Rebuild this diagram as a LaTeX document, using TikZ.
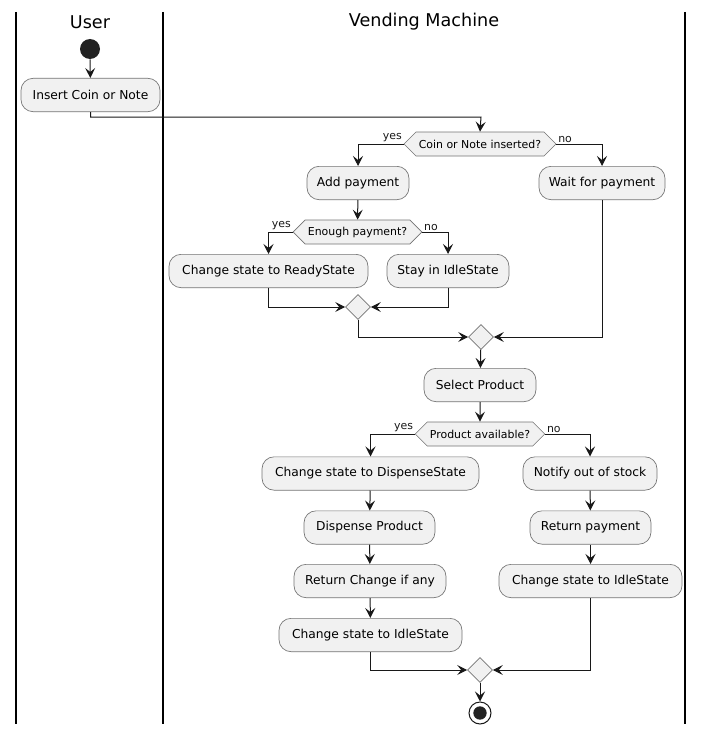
\documentclass[tikz,border=0pt]{standalone}
\usepackage{fontspec}
\setmainfont{DejaVu Sans}
\usetikzlibrary{arrows.meta,shapes.geometric,shapes.symbols}

\definecolor{boxgray}{HTML}{F1F1F1}
\definecolor{linecol}{HTML}{181818}
\definecolor{startcol}{HTML}{222222}

\tikzset{
  lane/.style={line width=1.1pt, black},
  action/.style={draw=black!55, line width=0.5pt, fill=boxgray, rounded corners=9pt, minimum height=25pt, inner xsep=6pt, font=\fontsize{9.2pt}{11pt}\selectfont},
  decision/.style={draw=black!55, line width=0.5pt, fill=boxgray, shape=signal, signal to=east and west, signal pointer angle=90, minimum height=18pt, inner xsep=2pt, inner ysep=0pt, font=\fontsize{8.2pt}{10pt}\selectfont},
  merge/.style={draw=black!55, line width=0.5pt, fill=boxgray, diamond, minimum size=18.75pt, inner sep=0pt, aspect=1},
  flow/.style={-{Stealth[length=7.5pt,width=7.5pt,inset=3pt]}, line width=0.75pt, linecol},
  branch/.style={font=\fontsize{8.2pt}{10pt}\selectfont, inner sep=1pt},
  title/.style={font=\fontsize{13.2pt}{15pt}\selectfont}
}

\begin{document}
\begin{tikzpicture}[x=0.75pt,y=-0.75pt]
    \useasboundingbox (0,0) rectangle (704,735);

    % lanes
    \draw[lane] (16,12) -- (16,724);
    \draw[lane] (163,12) -- (163,724);
    \draw[lane] (685,12) -- (685,724);
    \node[title] (user) at (90,22) {User};
    \node[title] (machine) at (424,22) {Vending Machine};

    % user
    \node[circle, fill=startcol, minimum size=15pt, inner sep=0pt] (start) at (90,49) {};
    \node[action, minimum width=104.25pt] (insert) at (90.5,95) {Insert Coin or Note};
    \coordinate (j1) at (481,117);

    % payment
    \node[decision, minimum width=114pt] (coin) at (480,144) {Coin or Note inserted?};
    \node[action, minimum width=76.5pt] (addpay) at (358,183) {Add payment};
    \node[action, minimum width=94.5pt] (waitpay) at (602,183) {Wait for payment};
    \node[decision, minimum width=93.75pt] (enough) at (357.5,232) {Enough payment?};
    \node[action, minimum width=149.25pt] (ready) at (268.5,271) {Change state to ReadyState};
    \node[action, minimum width=91.5pt] (stayidle) at (448,271) {Stay in IdleState};
    \node[merge] (merge1) at (358,307) {};
    \node[merge] (merge2) at (481,337) {};

    % product
    \node[action, minimum width=84pt] (select) at (480,385) {Select Product};
    \node[decision, minimum width=94.5pt] (avail) at (480,434) {Product available?};
    \node[action, minimum width=162.75pt] (dispstate) at (370.5,473.5) {Change state to DispenseState};
    \node[action, minimum width=100.5pt] (notify) at (590,473.5) {Notify out of stock};
    \node[action, minimum width=98.25pt] (dispense) at (369.5,527.5) {Dispense Product};
    \node[action, minimum width=90.75pt] (retpay) at (590.5,527.5) {Return payment};
    \node[action, minimum width=114pt] (retchange) at (370,581) {Return Change if any};
    \node[action, minimum width=137.25pt] (idleR) at (590.5,581) {Change state to IdleState};
    \node[action, minimum width=137.25pt] (idleL) at (370.5,635) {Change state to IdleState};
    \node[merge] (merge3) at (480,670) {};
    \node[circle, draw=linecol, line width=0.75pt, fill=white, minimum size=16.5pt, inner sep=0pt] (stop) at (480,713) {};
    \fill[startcol] (stop.center) circle (5pt);

    % flows
    \draw[flow] (start) -- (insert);
    \draw[flow] (insert.south) |- (j1) -- (coin.north);
    \draw[flow] (coin.west) -| (addpay.north) node[pos=0, anchor=south east, branch] {yes};
    \draw[flow] (coin.east) -| (waitpay.north) node[pos=0, anchor=south west, branch] {no};
    \draw[flow] (addpay) -- (enough);
    \draw[flow] (enough.west) -| (ready.north) node[pos=0, anchor=south east, branch] {yes};
    \draw[flow] (enough.east) -| (stayidle.north) node[pos=0, anchor=south west, branch] {no};
    \draw[flow] (ready.south) |- (merge1.west);
    \draw[flow] (stayidle.south) |- (merge1.east);
    \draw[flow] (merge1.south) |- (merge2.west);
    \draw[flow] (waitpay.south) |- (merge2.east);
    \draw[flow] (merge2) -- (select);
    \draw[flow] (select) -- (avail);
    \draw[flow] (avail.west) -| (dispstate.north) node[pos=0, anchor=south east, branch] {yes};
    \draw[flow] (avail.east) -| (notify.north) node[pos=0, anchor=south west, branch] {no};
    \draw[flow] (dispstate) -- (dispense);
    \draw[flow] (dispense) -- (retchange);
    \draw[flow] (retchange) -- (idleL);
    \draw[flow] (notify) -- (retpay);
    \draw[flow] (retpay) -- (idleR);
    \draw[flow] (idleL.south) |- (merge3.west);
    \draw[flow] (idleR.south) |- (merge3.east);
    \draw[flow] (merge3) -- (stop);

\end{tikzpicture}
\end{document}
